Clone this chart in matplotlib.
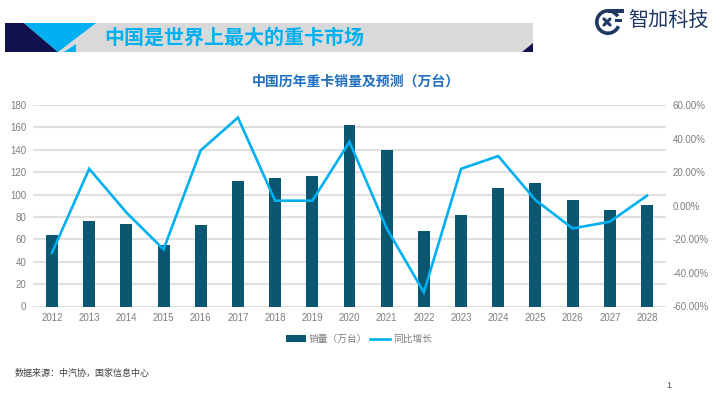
import numpy as np
import matplotlib
matplotlib.use("Agg")
import matplotlib.pyplot as plt
from matplotlib.patches import Polygon, Rectangle, Wedge, Ellipse

plt.rcParams['font.family'] = ['Liberation Sans', 'Noto Sans CJK SC', 'DejaVu Sans']

years = [2012, 2013, 2014, 2015, 2016, 2017, 2018, 2019, 2020, 2021, 2022, 2023, 2024, 2025, 2026, 2027, 2028]
sales = [64, 76.5, 74, 55, 73, 112, 115, 117, 162, 140, 67, 82, 106, 110, 95, 86, 91]
growth = [-28, 22, -4, -26, 33, 52.5, 3, 3, 38, -13.5, -51.5, 22, 29.6, 3.4, -13.5, -9.5, 6]

left_ticks = list(range(0, 181, 20))
right_ticks = list(range(-60, 61, 20))

NAVY = "#12114f"
CYAN = "#00b0f0"
BAR = "#0b5771"
GRID = "#e0e0e0"
TICK = "#7f7f7f"
W, H = 720, 405

fig = plt.figure(figsize=(7.2, 4.05), dpi=100)

# full page overlay in pixel coords, for the slide decoration
bg = fig.add_axes([0, 0, 1, 1])
bg.set_xlim(0, W)
bg.set_ylim(H, 0)
bg.axis("off")

bg.add_patch(Rectangle((5, 23), 528, 29, color="#d9d9d9", lw=0))
bg.add_patch(Polygon([(5, 23), (24, 23), (58, 52), (5, 52)], color=NAVY, lw=0))
bg.add_patch(Polygon([(24, 23), (96, 23), (58, 52)], color=CYAN, lw=0))
bg.add_patch(Polygon([(64, 52), (76, 44), (76, 52)], color=CYAN, lw=0))
bg.add_patch(Polygon([(522, 52), (533, 43), (533, 52)], color=NAVY, lw=0))
bg.text(104, 38, "中国是世界上最大的重卡市场", fontsize=14.4, fontweight="bold", color=CYAN,
        va="center", ha="left")

# logo: ring, two bars and a small fan
LOGO = "#1f3864"
cx, cy = 608, 22
bg.add_patch(Wedge((cx, cy), 13, 22, 270 + 60, width=3.6, color=LOGO, lw=0))
bg.add_patch(Rectangle((cx, 9), 16, 3.6, color=LOGO, lw=0))
bg.add_patch(Rectangle((cx + 7, 19), 7, 2.8, color=LOGO, lw=0))
for ang in (45, 135, 225, 315):
    a = np.deg2rad(ang)
    bg.add_patch(Ellipse((cx - 1 + 3 * np.cos(a), cy + 3 * np.sin(a)), 6, 3.2, angle=ang, color=LOGO, lw=0))
bg.text(628, 21.5, "智加科技", fontsize=14.5, color=LOGO, va="center", ha="left")

bg.text(356, 82, "中国历年重卡销量及预测（万台）", fontsize=10, fontweight="bold", color="#1f6fbf",
        ha="center", va="center")
bg.text(15, 373, "数据来源：中汽协，国家信息中心", fontsize=6.5, color="#404040", va="center", ha="left")
bg.text(669, 386, "1", fontsize=6.6, color="#44546a", va="center", ha="center")

# chart
ax = fig.add_axes([33.4 / W, 1 - 306.5 / H, 632.2 / W, 201.5 / H])
ax.patch.set_alpha(0)
x = np.arange(len(years))
bars = ax.bar(x, sales, width=0.32, color=BAR, zorder=3, label="销量（万台）")
ax.set_xlim(-0.5, len(years) - 0.5)
ax.set_ylim(0, 180)
ax.set_yticks(left_ticks)
ax.set_xticks(x)
ax.set_xticklabels(years)
ax.grid(axis="y", color=GRID, lw=1.5, zorder=0)
ax.set_axisbelow(True)
for s in ax.spines.values():
    s.set_visible(False)
ax.tick_params(axis="both", length=0, labelsize=7, labelcolor=TICK)
ax.tick_params(axis="x", pad=5)
ax.tick_params(axis="y", pad=5)

ax2 = ax.twinx()
line, = ax2.plot(x, growth, color=CYAN, lw=1.9, zorder=4, label="同比增长", solid_joinstyle="miter")
ax2.set_ylim(-60, 60)
ax2.set_yticks(right_ticks)
ax2.set_yticklabels([f"{v:.2f}%" for v in right_ticks])
for s in ax2.spines.values():
    s.set_visible(False)
ax2.tick_params(axis="y", length=0, labelsize=7, labelcolor=TICK, pad=5)

leg = fig.legend(handles=[bars, line], loc="center", bbox_to_anchor=(359 / W, 1 - 339 / H), ncol=2,
                 frameon=False, fontsize=7, labelcolor=TICK, handlelength=2.05, handleheight=0.6,
                 columnspacing=0.35, handletextpad=0.3)

fig.savefig("out.png", dpi=100)
